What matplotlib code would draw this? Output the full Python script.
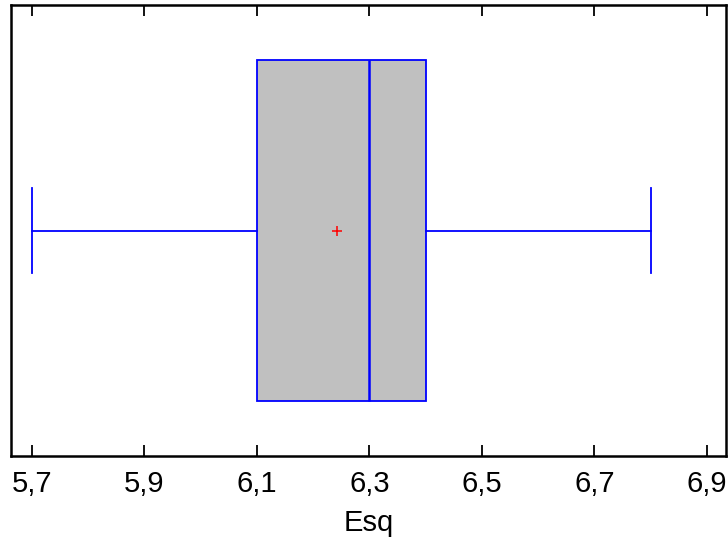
import matplotlib
matplotlib.use("Agg")
import matplotlib.pyplot as plt
from matplotlib.ticker import FuncFormatter, FixedLocator

plt.rcParams['font.family'] = ['Liberation Sans', 'DejaVu Sans']

# five-number summary plus mean for Esq
variable = "Esq"
whisker_low = 5.7
q1 = 6.1
median = 6.3
q3 = 6.4
whisker_high = 6.8
mean = 6.242
tick_values = [5.7, 5.9, 6.1, 6.3, 6.5, 6.7, 6.9]

stats = [{
    "label": variable,
    "whislo": whisker_low,
    "q1": q1,
    "med": median,
    "q3": q3,
    "whishi": whisker_high,
    "mean": mean,
    "fliers": [],
}]

fig = plt.figure(figsize=(7.28, 5.48), dpi=100)
ax = fig.add_axes([11/728, 92/548, 715/728, 451/548])

blue = "#0000ff"
ax.bxp(stats, positions=[0.5], widths=0.756, capwidths=0.19, vert=False,
       showmeans=True, patch_artist=True,
       boxprops=dict(facecolor="#c0c0c0", edgecolor=blue, linewidth=1.3),
       medianprops=dict(color=blue, linewidth=1.8),
       whiskerprops=dict(color=blue, linewidth=1.3),
       capprops=dict(color=blue, linewidth=1.3),
       meanprops=dict(marker="+", markeredgecolor="red", markersize=7,
                      markeredgewidth=1.1))

ax.set_xlim(5.6627, 6.9338)
ax.set_ylim(0, 1)
ax.xaxis.set_major_locator(FixedLocator(tick_values))
ax.xaxis.set_major_formatter(FuncFormatter(lambda v, p: f"{v:.1f}".replace(".", ",")))
ax.set_yticks([])
ax.tick_params(axis="x", direction="in", length=8, width=1.3, top=True,
               labelsize=21, pad=10)
for s in ax.spines.values():
    s.set_linewidth(1.8)
ax.set_xlabel(variable, fontsize=21, labelpad=8)

fig.savefig("out.png", dpi=100)
